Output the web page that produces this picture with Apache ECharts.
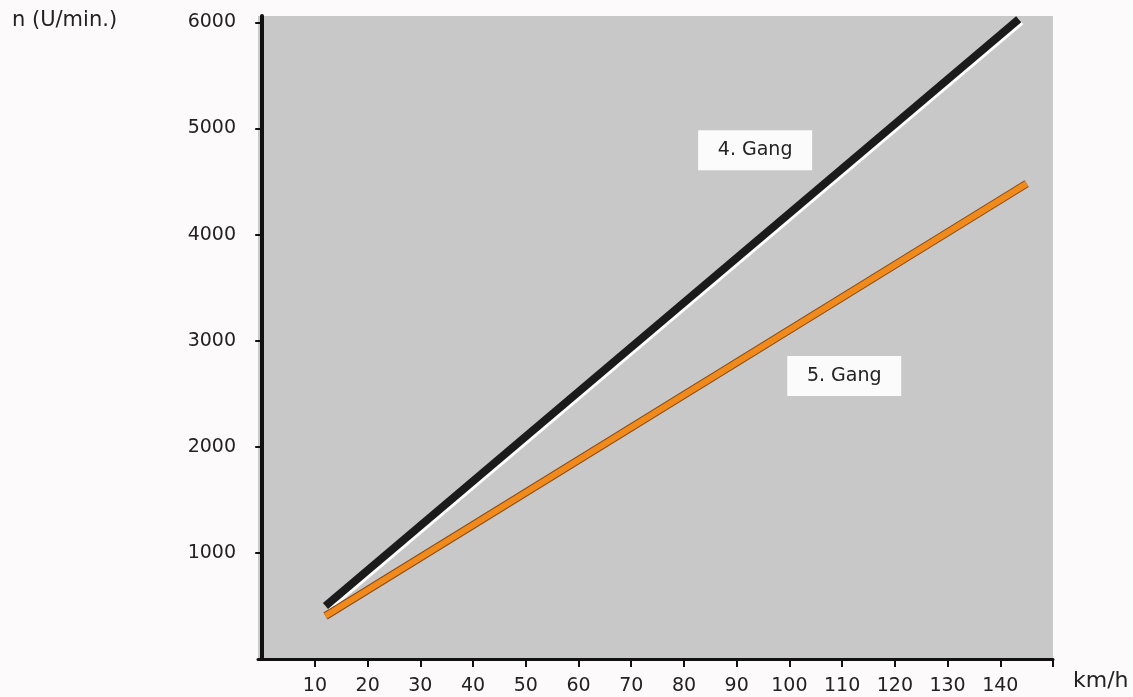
<!DOCTYPE html>
<html>
<head>
<meta charset="utf-8">
<script src="https://cdn.jsdelivr.net/npm/echarts@6/dist/echarts.min.js"></script>
<style>
  html, body { margin: 0; padding: 0; background: #fdfafb; }
  #chart { width: 1133px; height: 697px; }
</style>
</head>
<body>
<div id="chart"></div>
<script>
// Geschwindigkeit (km/h) an Anfang und Ende der Geraden
const speed4 = [12, 143.5];
const rpm4 = [500, 6030];   // 4. Gang
const speed5 = [12, 145];
const rpm5 = [405, 4480];   // 5. Gang

// Achsbeschriftungen
const xTicks = [10, 20, 30, 40, 50, 60, 70, 80, 90, 100, 110, 120, 130, 140, 150];
const xLabels = [10, 20, 30, 40, 50, 60, 70, 80, 90, 100, 110, 120, 130, 140];
const yLabels = [1000, 2000, 3000, 4000, 5000, 6000];

// Position der Beschriftungen (Datenkoordinaten)
const gangNames = ['4. Gang', '5. Gang'];
const gangLabelPos = [[93.5, 4795], [110.4, 2667]];

const pairs = (xs, ys) => xs.map((x, i) => [x, ys[i]]);

const chart = echarts.init(document.getElementById('chart'));

const axisFont = { fontFamily: 'DejaVu Sans', fontSize: 19, color: '#222' };

const labelPoint = (name, pos) => ({
  coord: pos,
  symbol: 'rect',
  symbolSize: [114, 40],
  itemStyle: { color: '#fbfbfb' },
  label: {
    show: true,
    position: 'inside',
    formatter: name,
    fontFamily: 'DejaVu Sans',
    fontSize: 19,
    color: '#222'
  }
});

chart.setOption({
  animation: false,
  backgroundColor: '#fdfafb',
  grid: {
    left: 258,
    right: 80,
    top: 16,
    bottom: 38,
    show: true,
    backgroundColor: '#c8c8c8',
    borderWidth: 0
  },
  xAxis: {
    type: 'value',
    min: -0.8,
    max: 150,
    splitLine: { show: false },
    axisLine: { lineStyle: { color: '#111', width: 3 } },
    axisTick: { length: 8, customValues: xTicks, lineStyle: { color: '#111', width: 2 } },
    axisLabel: { customValues: xLabels, margin: 18, formatter: v => String(v), ...axisFont }
  },
  yAxis: {
    type: 'value',
    min: 0,
    max: 6060,
    splitLine: { show: false },
    axisLine: { show: true, lineStyle: { color: '#111', width: 4 } },
    axisTick: { show: true, length: 7, customValues: yLabels, lineStyle: { color: '#111', width: 2 } },
    axisLabel: { customValues: yLabels, margin: 22, formatter: v => String(v), ...axisFont }
  },
  graphic: [
    {
      type: 'text', left: 12, top: 10,
      style: { text: 'n (U/min.)', font: '21px "DejaVu Sans"', fill: '#222' }
    },
    {
      type: 'text', left: 1073, top: 670,
      style: { text: 'km/h', font: '22px "DejaVu Sans"', fill: '#222' }
    }
  ],
  series: [
    {
      name: '4. Gang',
      type: 'line',
      data: pairs(speed4, rpm4),
      symbol: 'none',
      clip: false,
      lineStyle: {
        color: '#1b1b1b', width: 8, cap: 'butt',
        shadowColor: '#ffffff', shadowOffsetX: 2, shadowOffsetY: 2, shadowBlur: 0
      },
      markPoint: { data: [labelPoint(gangNames[0], gangLabelPos[0])] }
    },
    {
      name: '5. Gang Rand',
      type: 'line',
      data: pairs(speed5, rpm5),
      symbol: 'none',
      clip: false,
      lineStyle: { color: '#8a4a12', width: 8, cap: 'butt' }
    },
    {
      name: '5. Gang',
      type: 'line',
      data: pairs(speed5, rpm5),
      symbol: 'none',
      clip: false,
      lineStyle: { color: '#f08a1c', width: 6, cap: 'butt' },
      markPoint: { data: [labelPoint(gangNames[1], gangLabelPos[1])] }
    }
  ]
});

window.addEventListener('resize', () => chart.resize());
</script>
</body>
</html>
